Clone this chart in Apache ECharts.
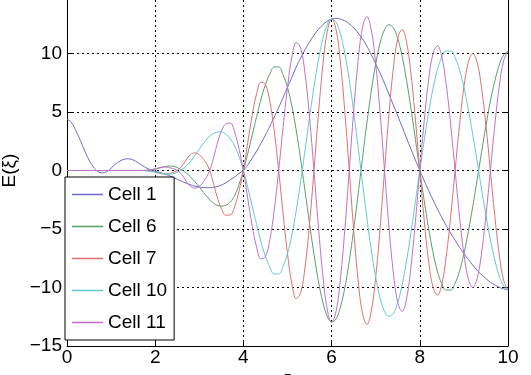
<!DOCTYPE html>
<html><head><meta charset="utf-8">
<script src="https://cdn.jsdelivr.net/npm/echarts@6/dist/echarts.min.js"></script>
<style>html,body{margin:0;padding:0;background:#fff}#c{width:531px;height:375px}</style>
</head><body><div id="c"></div>
<script>
const xi = [0,0.1,0.2,0.3,0.4,0.5,0.6,0.7,0.8,0.9,1,1.1,1.2,1.3,1.4,1.5,1.6,1.7,1.8,1.9,2,2.1,2.2,2.3,2.4,2.5,2.6,2.7,2.8,2.9,3,3.1,3.2,3.3,3.4,3.5,3.6,3.7,3.8,3.9,4,4.1,4.2,4.3,4.4,4.5,4.6,4.7,4.8,4.9,5,5.1,5.2,5.3,5.4,5.5,5.6,5.7,5.8,5.9,6,6.1,6.2,6.3,6.4,6.5,6.6,6.7,6.8,6.9,7,7.1,7.2,7.3,7.4,7.5,7.6,7.7,7.8,7.9,8,8.1,8.2,8.3,8.4,8.5,8.6,8.7,8.8,8.9,9,9.1,9.2,9.3,9.4,9.5,9.6,9.7,9.8,9.9,10];

const cell1 = [4.4,4.1,3.4,2.6,1.7,0.9,0.3,-0.1,-0.2,-0.1,0.2,0.55,0.8,0.97,1.0,0.9,0.7,0.45,0.22,0.05,-0.05,-0.15,-0.28,-0.42,-0.58,-0.75,-0.92,-1.08,-1.22,-1.33,-1.41,-1.46,-1.47,-1.45,-1.38,-1.25,-1.05,-0.8,-0.55,-0.25,
0,0.49,1.05,1.66,2.33,3.04,3.79,4.57,5.38,6.23,7.11,7.98,8.86,9.63,10.34,10.99,11.56,12.06,12.45,12.76,12.95,13.01,12.94,12.79,12.55,12.2,11.76,11.25,10.64,9.89,9.12,8.31,7.44,6.53,5.61,4.67,3.72,2.77,1.82,0.9,0,-0.87,-1.71,-2.52,-3.29,-4.02,-4.7,-5.36,-5.97,-6.56,-7.11,-7.6,-8.09,-8.53,-8.91,-9.24,-9.56,-9.77,-9.98,-10.12,-10.2];

const cell6 = [0,0,0,0,0,0,0,0,0,0,0,0,0,0,0,0,0,0,0.02,0.06,0.12,0.22,0.32,0.38,0.36,0.25,0.06,-0.2,-0.55,-0.95,-1.4,-1.9,-2.35,-2.72,-2.97,-3.05,-2.98,-2.7,-2.15,-1.2,
0,1.47,3.04,4.61,6.11,7.34,8.25,8.85,8.85,8.18,7.11,5.49,3.38,0.89,-1.81,-4.55,-7.14,-9.43,-11.23,-12.45,-12.95,-12.69,-11.67,-10.0,-7.76,-5.05,-2.06,1.04,4.06,6.79,9.12,10.91,12.03,12.46,12.2,11.27,9.75,7.7,5.29,2.67,0,-2.59,-4.97,-7.01,-8.62,-9.7,-10.22,-10.22,-9.65,-8.61,-7.11,-5.23,-3.09,-0.79,1.56,3.83,5.91,7.64,9.0,9.87,10.2];

const cell7 = [0,0,0,0,0,0,0,0,0,0,0,0,0,0,0,0,0,0,-0.02,-0.07,-0.15,-0.25,-0.3,-0.27,-0.17,0.0,0.35,0.9,1.35,1.5,1.35,0.93,0.33,-0.8,-2.2,-3.25,-3.82,-3.8,-3.1,-1.75,
0,2.41,4.74,6.56,7.55,7.35,5.9,3.35,0,-3.68,-7.11,-9.7,-10.95,-10.44,-8.2,-4.56,0,4.75,8.91,11.83,12.95,12.06,9.26,5.04,0,-5.06,-9.33,-12.2,-13.15,-12.01,-9.12,-4.9,0,4.79,8.73,11.27,12.05,10.95,8.24,4.39,0,-4.25,-7.74,-9.98,-10.65,-9.7,-7.32,-3.93,0,3.87,7.11,9.24,10.0,9.24,7.07,3.83,0,-3.85,-7.14,-9.38,-10.2];

const cell10 = [0,0,0,0,0,0,0,0,0,0,0,0,0,0,0,0,0,0,-0.02,-0.06,-0.12,-0.2,-0.28,-0.32,-0.28,-0.15,0.05,0.35,0.78,1.28,1.82,2.35,2.8,3.12,3.28,3.3,3.12,2.72,2.1,1.2,
0,-1.47,-3.04,-4.61,-6.11,-7.34,-8.25,-8.85,-8.85,-8.18,-7.11,-5.49,-3.38,-0.89,1.81,4.55,7.14,9.43,11.23,12.45,12.95,12.69,11.67,10.0,7.76,5.05,2.06,-1.04,-4.06,-6.79,-9.12,-10.91,-12.03,-12.46,-12.2,-11.27,-9.75,-7.7,-5.29,-2.67,0,2.59,4.97,7.01,8.62,9.7,10.22,10.22,9.65,8.61,7.11,5.23,3.09,0.79,-1.56,-3.83,-5.91,-7.64,-9.0,-9.87,-10.2];

const cell11 = [0,0,0,0,0,0,0,0,0,0,0,0,0,0,0,0,0,0,0.02,0.07,0.15,0.25,0.3,0.26,0.16,0.0,-0.35,-0.9,-1.35,-1.5,-1.35,-0.93,-0.3,0.75,2.2,3.35,3.98,4.05,3.3,1.85,
0,-2.41,-4.74,-6.56,-7.55,-7.35,-5.9,-3.35,0,3.68,7.11,9.7,10.95,10.44,8.2,4.56,0,-4.75,-8.91,-11.83,-12.95,-12.06,-9.26,-5.04,0,5.06,9.33,12.2,13.15,12.01,9.12,4.9,0,-4.79,-8.73,-11.27,-12.05,-10.95,-8.24,-4.39,0,4.25,7.74,9.98,10.65,9.7,7.32,3.93,0,-3.87,-7.11,-9.24,-10.0,-9.24,-7.07,-3.83,0,3.85,7.14,9.38,10.2];

const seriesNames = ['Cell 1','Cell 6','Cell 7','Cell 10','Cell 11'];
const seriesColors = ['#6a6ac8','#5a9e6a','#e07070','#5fcccc','#c070c8'];
const xTicks = [0,2,4,6,8,10];
const yTicks = [-15,-10,-5,0,5,10,15];

const FONT = 'Liberation Sans';
const fmt = v => String(v).replace('-', '\u2212');
const allData = [cell1, cell6, cell7, cell10, cell11];

const chart = echarts.init(document.getElementById('c'), null, {renderer:'canvas'});
chart.setOption({
  animation: false,
  backgroundColor: '#fff',
  grid: {left: 67, right: 23, top: -5, bottom: 29, containLabel: false, outerBoundsMode: 'none'},
  xAxis: {
    type: 'value', min: xTicks[0], max: xTicks[xTicks.length-1], interval: xTicks[1]-xTicks[0],
    name: '\u03be', nameLocation: 'middle', nameGap: 22,
    nameTextStyle: {fontSize: 19, color: '#000', fontFamily: FONT},
    axisLine: {show: true, onZero: false, lineStyle: {color: '#000', width: 1}},
    axisTick: {show: true, inside: true, length: 5, lineStyle: {color: '#000'}},
    axisLabel: {fontSize: 19, color: '#000', fontFamily: FONT, margin: 2, formatter: fmt},
    splitLine: {show: true, lineStyle: {color: '#000', type: [2, 3], width: 1}}
  },
  yAxis: [{
    type: 'value', min: yTicks[0], max: yTicks[yTicks.length-1], interval: yTicks[1]-yTicks[0],
    name: 'E(\u03be)', nameLocation: 'middle', nameGap: 45, nameRotate: 90,
    nameTextStyle: {fontSize: 19, color: '#000', fontFamily: FONT},
    axisLine: {show: true, onZero: false, lineStyle: {color: '#000', width: 1}},
    axisTick: {show: true, inside: true, length: 5, lineStyle: {color: '#000'}},
    axisLabel: {fontSize: 19, color: '#000', fontFamily: FONT, margin: 5, formatter: fmt},
    splitLine: {show: true, lineStyle: {color: '#000', type: [2, 3], width: 1}}
  }, {
    type: 'value', position: 'right', min: yTicks[0], max: yTicks[yTicks.length-1], interval: yTicks[1]-yTicks[0],
    axisLine: {show: true, onZero: false, lineStyle: {color: '#000', width: 1}},
    axisTick: {show: true, inside: true, length: 5, lineStyle: {color: '#000'}},
    axisLabel: {show: false}, splitLine: {show: false}
  }],
  legend: {
    orient: 'vertical', left: 65, top: 177,
    icon: 'rect', itemWidth: 31, itemHeight: 1.5, itemGap: 13,
    padding: [8, 7, 8, 7],
    borderColor: '#000', borderWidth: 1, backgroundColor: '#fff',
    textStyle: {fontSize: 19, lineHeight: 19, color: '#000', fontFamily: FONT},
    data: seriesNames
  },
  series: seriesNames.map((n, i) => ({
    name: n, type: 'line', showSymbol: false, symbol: 'none', smooth: 0.4,
    color: seriesColors[i],
    lineStyle: {width: 1, color: seriesColors[i]},
    data: xi.map((x, j) => [x, allData[i][j]]),
    z: 2
  }))
});
</script></body></html>
